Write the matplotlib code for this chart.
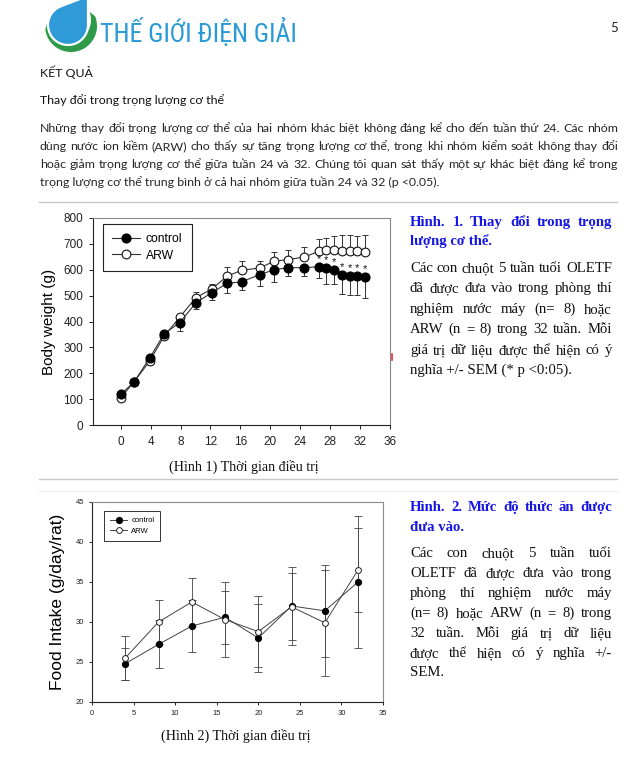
import numpy as np
import matplotlib
matplotlib.use('Agg')
import matplotlib.pyplot as plt
from matplotlib import font_manager
from matplotlib.patches import Polygon

# ---------------- data ----------------
bw_weeks = [0, 1.8, 3.9, 5.8, 7.9, 10.05, 12.2, 14.2, 16.2, 18.6, 20.5, 22.3,
            24.5, 26.5, 27.5, 28.5, 29.6, 30.6, 31.6, 32.6]
bw_control = [118, 167, 260, 352, 396, 472, 512, 547, 554, 581, 600, 608,
              608, 612, 606, 600, 579, 576, 577, 571]
bw_control_sem = [5, 5, 6, 6, 33, 22, 27, 35, 34, 45, 47, 32,
                  32, 44, 62, 56, 71, 72, 75, 80]
bw_arw = [105, 167, 248, 343, 417, 492, 526, 575, 598, 607, 633, 639,
          649, 671, 676, 675, 673, 673, 674, 670]
bw_arw_sem = [4, 5, 6, 6, 10, 22, 19, 36, 37, 28, 34, 37,
              39, 47, 48, 56, 62, 62, 55, 64]
bw_sig = [False] * 13 + [True] * 7
bw_xticks = [0, 4, 8, 12, 16, 20, 24, 28, 32, 36]
bw_yticks = [0, 100, 200, 300, 400, 500, 600, 700, 800]

fi_weeks = [4, 8, 12, 16, 20, 24, 28, 32]
fi_control = [24.8, 27.2, 29.5, 30.6, 28.0, 32.0, 31.4, 35.0]
fi_control_sem = [2.0, 3.0, 3.3, 3.3, 4.3, 4.9, 5.75, 8.25]
fi_arw = [25.5, 30.0, 32.5, 30.3, 28.8, 31.9, 29.9, 36.5]
fi_arw_sem = [2.7, 2.8, 3.0, 4.7, 4.4, 4.2, 6.6, 5.2]
fi_xticks = [0, 5, 10, 15, 20, 25, 30, 35]
fi_yticks = [20, 25, 30, 35, 40, 45]

series_labels = ["control", "ARW"]

logo_text = "THẾ GIỚI ĐIỆN GIẢI"
page_no = "5"
section_title = "KẾT QUẢ"
sub_title = "Thay đổi trong trọng lượng cơ thể"
para_lines = [
    "Những thay đổi trọng lượng cơ thể của hai nhóm khác biệt không đáng kể cho đến tuần thứ 24. Các nhóm",
    "dùng nước ion kiềm (ARW) cho thấy sự tăng trọng lượng cơ thể, trong khi nhóm kiểm soát không thay đổi",
    "hoặc giảm trọng lượng cơ thể giữa tuần 24 và 32. Chúng tôi quan sát thấy một sự khác biệt đáng kể trong",
    "trọng lượng cơ thể trung bình ở cả hai nhóm giữa tuần 24 và 32 (p <0.05).",
]
cap1_head = ["Hình. 1. Thay đổi trong trọng", "lượng cơ thể."]
cap1_body = ["Các con chuột 5 tuần tuổi OLETF", "đã được đưa vào trong phòng thí",
             "nghiệm nước máy (n= 8) hoặc", "ARW (n = 8) trong 32 tuần. Mỗi",
             "giá trị dữ liệu được thể hiện có ý", "nghĩa +/- SEM (* p <0:05)."]
cap2_head = ["Hình. 2. Mức độ thức ăn được", "đưa vào."]
cap2_body = ["Các con chuột 5 tuần tuổi", "OLETF đã được đưa vào trong",
             "phòng thí nghiệm nước máy", "(n= 8) hoặc ARW (n = 8) trong",
             "32 tuần. Mỗi giá trị dữ liệu", "được thể hiện có ý nghĩa +/-", "SEM."]
xlabel1 = "(Hình 1) Thời gian điều trị"
xlabel2 = "(Hình 2) Thời gian điều trị"
ylabel1 = "Body weight (g)"
ylabel2 = "Food Intake (g/day/rat)"

# ---------------- fonts ----------------
installed = {f.name for f in font_manager.fontManager.ttflist}
SANS = ['Liberation Sans', 'DejaVu Sans']
SERIF = ['Liberation Serif', 'DejaVu Serif']
PAGE = [f for f in ['Lato', 'Open Sans', 'Noto Sans'] if f in installed] + ['DejaVu Sans']
NARROW = [f for f in ['Liberation Sans Narrow', 'Roboto Condensed', 'DejaVu Sans Condensed',
                      'Open Sans Condensed', 'Roboto'] if f in installed] + ['DejaVu Sans']

plt.rcParams['font.family'] = SANS

fig = plt.figure(figsize=(6.4, 7.59), dpi=100)
fig.patch.set_facecolor('white')
bg = fig.add_axes([0, 0, 1, 1], zorder=0)
bg.set_xlim(0, 640)
bg.set_ylim(759, 0)
bg.axis('off')
R = fig.canvas.get_renderer()


def width(t):
    return t.get_window_extent(renderer=R).width


def fit_size(text, target, fs0=10, **kw):
    t = bg.text(0, 0, text, fontsize=fs0, **kw)
    w = width(t)
    t.remove()
    return fs0 * target / w


def put_line(text, x0, y, x1=None, **kw):
    words = text.split(' ')
    if x1 is None or len(words) == 1:
        return bg.text(x0, y, text, va='baseline', ha='left', **kw)
    objs = [bg.text(0, y, w, va='baseline', ha='left', **kw) for w in words]
    ws = [width(o) for o in objs]
    gap = (x1 - x0 - sum(ws)) / (len(words) - 1)
    x = x0
    for o, w in zip(objs, ws):
        o.set_x(x)
        x += w + gap
    return objs


# ---------------- logo ----------------
def circle_pts(cx, cy, r, a0, a1, n=60):
    a = np.radians(np.linspace(a0, a1, n))
    return np.column_stack([cx + r * np.cos(a), cy + r * np.sin(a)])

outer = circle_pts(71, 26, 26, 172, -22)
inner = circle_pts(69, 20, 22, -22, 172)
bg.add_patch(Polygon(np.vstack([outer, inner]), closed=True, fc='#2f9a48', ec='none', zorder=1))
P = np.array([88.0, -4.0]); C = np.array([68.0, 25.0]); r = 20.0
d = np.linalg.norm(P - C)
phi = np.degrees(np.arctan2(P[1] - C[1], P[0] - C[0]))
off = np.degrees(np.arccos(r / d))
arc = circle_pts(C[0], C[1], r, phi + off, phi - off + 360, 80)
bg.add_patch(Polygon(np.vstack([[P], arc]), closed=True, fc='#2e9bd8', ec='white', lw=1.6, zorder=2))

fs_logo = fit_size(logo_text, 196, 20, family=NARROW)
bg.text(100, 42, logo_text, fontsize=fs_logo, family=NARROW, color='#2a9ad6',
        va='baseline', ha='left')
bg.text(614, 32, page_no, fontsize=9.5, family=PAGE, color='#222', va='baseline', ha='center')

# ---------------- page text ----------------
fs_para = fit_size(para_lines[0], 574, 10, family=PAGE)
bg.text(40, 77, section_title, fontsize=fs_para, family=PAGE, color='#111', va='baseline')
bg.text(40, 104, sub_title, fontsize=fs_para, family=PAGE, color='#111', va='baseline')
para_y = [132, 150, 168, 186]
for i, (ln, y) in enumerate(zip(para_lines, para_y)):
    put_line(ln, 40, y, 618 if i < len(para_lines) - 1 else None,
             fontsize=fs_para, family=PAGE, color='#262626')

# separators
bg.plot([39, 617], [202, 202], color='#c8c8c8', lw=1)
bg.plot([39, 617], [479, 479], color='#c8c8c8', lw=1)
bg.plot([39, 617], [491, 491], color='#f0f0f0', lw=1)
bg.plot([392, 392], [354, 360], color='#e03030', lw=1.2)

# captions
fs_cap = fit_size(cap1_body[0], 201, 11, family=SERIF)
blue = '#1515e6'


def caption(head, body, head_y, body_y):
    for i, (ln, y) in enumerate(zip(head, head_y)):
        put_line(ln, 410, y, 612 if i < len(head) - 1 else None,
                 fontsize=fs_cap, family=SERIF, weight='bold', color=blue)
    for i, (ln, y) in enumerate(zip(body, body_y)):
        put_line(ln, 410, y, 612 if i < len(body) - 1 else None,
                 fontsize=fs_cap, family=SERIF, color='#111')

caption(cap1_head, cap1_body, [226, 245], [272, 292, 313, 333, 354, 374])
caption(cap2_head, cap2_body, [511, 531], [557, 577, 597, 617, 637, 657, 676])

bg.text(244, 471, xlabel1, fontsize=fs_cap * 0.95, family=SERIF, color='#111',
        ha='center', va='baseline')
bg.text(236, 740, xlabel2, fontsize=fs_cap * 0.95, family=SERIF, color='#111',
        ha='center', va='baseline')


# ---------------- charts ----------------
def style_axes(ax, fs, pad=3):
    for s in ['left', 'bottom']:
        ax.spines[s].set_color('#222')
        ax.spines[s].set_linewidth(0.8)
    for s in ['top', 'right']:
        ax.spines[s].set_color('#8a8a8a')
        ax.spines[s].set_linewidth(0.8)
    ax.tick_params(direction='out', length=3, width=0.7, labelsize=fs, colors='#222',
                   top=False, right=False, pad=pad)


# Chart 1
ax1 = fig.add_axes([93 / 640, 1 - 425 / 759, 297 / 640, 207 / 759], zorder=2)
zeros = np.zeros(len(bw_weeks))
ax1.errorbar(bw_weeks, bw_control, yerr=[bw_control_sem, zeros], fmt='none',
             ecolor='#333', elinewidth=0.7, capsize=2.5, capthick=0.7, zorder=2)
ax1.errorbar(bw_weeks, bw_arw, yerr=[zeros, bw_arw_sem], fmt='none',
             ecolor='#333', elinewidth=0.7, capsize=2.5, capthick=0.7, zorder=2)
l1, = ax1.plot(bw_weeks, bw_arw, '-', color='#333', lw=0.8, marker='o', ms=6.3,
               mfc='white', mec='#111', mew=0.8, zorder=3, label=series_labels[1])
l0, = ax1.plot(bw_weeks, bw_control, '-', color='#333', lw=0.8, marker='o', ms=6.3,
               mfc='black', mec='black', zorder=4, label=series_labels[0])
for x, c, s in zip(bw_weeks, bw_control, bw_sig):
    if s:
        ax1.text(x, c + 11, '*', ha='center', va='bottom', fontsize=8, color='#111', zorder=5)
ax1.set_xlim(-3.7, 36)
ax1.set_ylim(0, 800)
ax1.set_xticks(bw_xticks)
ax1.set_yticks(bw_yticks)
style_axes(ax1, 8.5, pad=5)
ax1.tick_params(axis='y', pad=4)
ax1.set_ylabel(ylabel1, fontsize=11, labelpad=5)
leg = ax1.legend(handles=[l0, l1], loc='upper left', bbox_to_anchor=(0.034, 0.972),
                 borderaxespad=0, frameon=True, fancybox=False, edgecolor='#222',
                 framealpha=1, fontsize=8.7, handlelength=2.3, borderpad=0.75,
                 labelspacing=0.4, handletextpad=0.5)
leg.get_frame().set_linewidth(0.8)

# Chart 2
ax2 = fig.add_axes([92 / 640, 1 - 702 / 759, 291 / 640, 200 / 759], zorder=2)
ax2.errorbar(fi_weeks, fi_control, yerr=fi_control_sem, fmt='none', ecolor='#444',
             elinewidth=0.6, capsize=3, capthick=0.6, zorder=2)
ax2.errorbar(fi_weeks, fi_arw, yerr=fi_arw_sem, fmt='none', ecolor='#444',
             elinewidth=0.6, capsize=3, capthick=0.6, zorder=2)
m0, = ax2.plot(fi_weeks, fi_control, '-', color='#444', lw=0.7, marker='o', ms=4.2,
               mfc='black', mec='black', zorder=3, label=series_labels[0])
m1, = ax2.plot(fi_weeks, fi_arw, '-', color='#444', lw=0.7, marker='o', ms=4.2,
               mfc='white', mec='#222', mew=0.7, zorder=4, label=series_labels[1])
ax2.set_xlim(0, 35)
ax2.set_ylim(20, 45)
ax2.set_xticks(fi_xticks)
ax2.set_yticks(fi_yticks)
style_axes(ax2, 5.5)
ax2.tick_params(length=2.5)
ax2.set_ylabel(ylabel2, fontsize=12.5, labelpad=8)
leg2 = ax2.legend(handles=[m0, m1], loc='upper left', bbox_to_anchor=(0.04, 0.955),
                  borderaxespad=0, frameon=True, fancybox=False, edgecolor='#333',
                  framealpha=1, fontsize=5.5, handlelength=2.3, borderpad=0.8,
                  labelspacing=0.4, handletextpad=0.5)
leg2.get_frame().set_linewidth(0.7)

fig.savefig('out.png', dpi=100)
